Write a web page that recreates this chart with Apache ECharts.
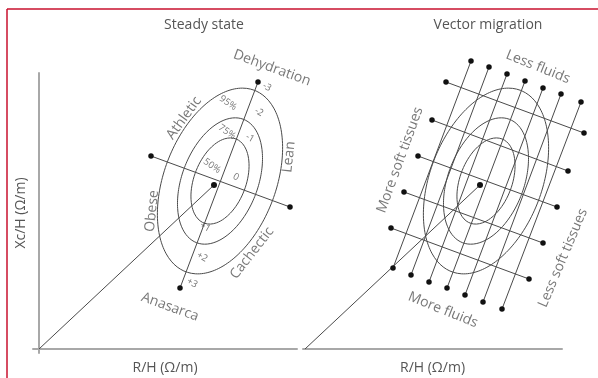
<!DOCTYPE html>
<html>
<head>
<meta charset="utf-8">
<script src="https://cdn.jsdelivr.net/npm/echarts@6/dist/echarts.min.js"></script>
<style>
  html, body { margin: 0; padding: 0; background: #fff; }
  #chart { width: 598px; height: 378px; }
</style>
</head>
<body>
<div id="chart"></div>
<script>
// ---- Shared BIVA frame: both panels use the same R/H and Xc/H units ----
const meanPoint = [175, 164];
const ellipseCenter = [181, 168];
const ellipseTilt = 69.3;                 // degrees, major axis vs. R/H axis
const ellipsePercent = ['50%', '75%', '95%'];
const ellipseSemiMajor = [45, 66, 97];
const ellipseSemiMinor = [26, 38, 56];

// Steady state: major (hydration) and minor (soft tissue) axes
const majorAxisEnds = [[219, 267], [141, 61]];
const minorAxisEnds = [[112, 193], [251, 142]];

const zTickText = ['-3', '-2', '-1', '0', '+1', '+2', '+3'];
const zTickPos = [[228, 262], [220, 237], [211, 211], [197, 172], [166, 122], [163, 92], [153, 66]];
const percentPos = [[173, 183], [188, 217], [189, 246]];

const steadyText = ['Dehydration', 'Athletic', 'Lean', 'Obese', 'Cachectic', 'Anasarca'];
const steadyPos = [[233, 281], [145, 231], [250, 192], [113, 138], [213, 96], [131, 42]];
const steadyAngle = [-20, 54, 84, 84, 52, -20];

// Vector migration: fluid shift lines (along major axis), top / bottom ends
const fluidTop = [[166, 288], [184, 282], [202, 275], [220, 268], [238, 261], [256, 255], [276, 247]];
const fluidBottom = [[88, 81], [106, 74], [124, 67], [142, 61], [160, 54], [178, 47], [197, 40]];
// soft-tissue shift lines (along minor axis), left / right ends
const tissueLeft = [[141, 267], [127, 229], [113, 193], [99, 157], [86, 121]];
const tissueRight = [[279, 216], [263, 178], [252, 142], [238, 106], [224, 70]];

const migrationText = ['Less fluids', 'More soft tissues', 'Less soft tissues', 'More fluids'];
const migrationPos = [[233, 282], [95, 189], [258, 91], [138, 39]];
const migrationAngle = [-22, 70, 67, -22];

const axisName = 'R/H (\u03A9/m)';
const yAxisName = 'Xc/H (\u03A9/m)';
const panelTitles = ['Steady state', 'Vector migration'];

// ---- styling ----
const FONT = '"Open Sans", "Noto Sans", sans-serif';
const TEXT = '#555';
const INK = '#4a4a4a';
const DOT = '#111';
const AXIS = '#a8a8a8';

// tolerance ellipse outline from centre, semi-axes and tilt
function ellipseOutline(a, b) {
  const t = ellipseTilt * Math.PI / 180;
  const pts = [];
  const n = 180;
  for (let k = 0; k <= n; k++) {
    const u = (k / n) * 2 * Math.PI;
    const ex = a * Math.cos(u), ey = b * Math.sin(u);
    pts.push([
      ellipseCenter[0] + ex * Math.cos(t) - ey * Math.sin(t),
      ellipseCenter[1] + ex * Math.sin(t) + ey * Math.cos(t)
    ]);
  }
  return pts;
}

function ellipseSeries(g) {
  return ellipseSemiMajor.map((a, i) => ({
    type: 'line', xAxisIndex: g, yAxisIndex: g,
    data: ellipseOutline(a, ellipseSemiMinor[i]),
    showSymbol: false, symbol: 'none', clip: false, silent: true,
    lineStyle: { color: INK, width: 1 }
  }));
}

// straight segment with a dot at each end
function dottedSegment(g, p, q) {
  return {
    type: 'line', xAxisIndex: g, yAxisIndex: g,
    data: [p, q], symbol: 'circle', symbolSize: 5.5, showSymbol: true,
    clip: false, silent: true,
    lineStyle: { color: INK, width: 1 },
    itemStyle: { color: DOT }
  };
}

// vector from the origin to the mean point
function meanVector(g) {
  return {
    type: 'line', xAxisIndex: g, yAxisIndex: g,
    data: [{ value: [0, 0], symbol: 'none' }, { value: meanPoint, symbol: 'circle' }],
    symbolSize: 6, showSymbol: true, clip: false, silent: true,
    lineStyle: { color: INK, width: 1 },
    itemStyle: { color: DOT }
  };
}

function textSeries(g, texts, pos, angles, size) {
  return {
    type: 'scatter', xAxisIndex: g, yAxisIndex: g,
    symbolSize: 0, clip: false, silent: true,
    data: texts.map((t, i) => ({
      value: pos[i], name: t,
      label: { rotate: Array.isArray(angles) ? angles[i] : angles }
    })),
    label: {
      show: true, position: 'inside', formatter: '{b}',
      color: TEXT, fontFamily: FONT, fontSize: size
    }
  };
}

const series = [];
// Steady state panel (grid 0)
series.push(...ellipseSeries(0));
series.push(dottedSegment(0, majorAxisEnds[0], majorAxisEnds[1]));
series.push(dottedSegment(0, minorAxisEnds[0], minorAxisEnds[1]));
series.push(meanVector(0));
series.push(textSeries(0, steadyText, steadyPos, steadyAngle, 14));
series.push(textSeries(0, ellipsePercent, percentPos, -35, 9.5));
series.push(textSeries(0, zTickText, zTickPos, -30, 9.5));

// Vector migration panel (marks on grid 2, which shares grid 1's scale)
series.push(...ellipseSeries(2));
fluidTop.forEach((p, i) => series.push(dottedSegment(2, p, fluidBottom[i])));
tissueLeft.forEach((p, i) => series.push(dottedSegment(2, p, tissueRight[i])));
series.push(meanVector(2));
series.push(textSeries(2, migrationText, migrationPos, migrationAngle, 14));

const nameStyle = { color: TEXT, fontFamily: FONT, fontSize: 14 };
function hiddenParts() {
  return { axisTick: { show: false }, axisLabel: { show: false }, splitLine: { show: false } };
}

const option = {
  animation: false,
  backgroundColor: '#fff',
  title: panelTitles.map((t, i) => ({
    text: t, left: i === 0 ? 199 : 483, top: 13, textAlign: 'center',
    textStyle: { color: TEXT, fontFamily: FONT, fontSize: 14, fontWeight: 'normal' }
  })),
  grid: [
    { left: 33, top: 73, width: 264, height: 280, outerBoundsMode: 'none', containLabel: false },
    { left: 303, top: 73, width: 259, height: 280, outerBoundsMode: 'none', containLabel: false },
    { left: 303, top: 53, width: 292, height: 300, outerBoundsMode: 'none', containLabel: false }
  ],
  xAxis: [
    Object.assign({
      gridIndex: 0, type: 'value', min: -6, max: 258,
      axisLine: { onZero: true, lineStyle: { color: AXIS, width: 2 } },
      name: axisName, nameLocation: 'middle', nameGap: 8, nameTextStyle: nameStyle
    }, hiddenParts()),
    Object.assign({
      gridIndex: 1, type: 'value', min: -2, max: 257,
      axisLine: { onZero: true, lineStyle: { color: AXIS, width: 2 } },
      name: axisName, nameLocation: 'middle', nameGap: 8, nameTextStyle: nameStyle
    }, hiddenParts()),
    { gridIndex: 2, type: 'value', min: -2, max: 290, show: false }
  ],
  yAxis: [
    Object.assign({
      gridIndex: 0, type: 'value', min: -4, max: 276,
      axisLine: { onZero: true, lineStyle: { color: AXIS, width: 2 } },
      name: yAxisName, nameLocation: 'middle', nameGap: 5, nameRotate: 90, nameTextStyle: nameStyle
    }, hiddenParts()),
    Object.assign({
      gridIndex: 1, type: 'value', min: -4, max: 276,
      axisLine: { show: false }
    }, hiddenParts()),
    { gridIndex: 2, type: 'value', min: -4, max: 296, show: false }
  ],
  graphic: [
    { type: 'line', shape: { x1: 7, y1: 9, x2: 598, y2: 9 }, style: { stroke: '#c8102e', lineWidth: 1.5 }, silent: true },
    { type: 'line', shape: { x1: 7, y1: 9, x2: 7, y2: 378 }, style: { stroke: '#c8102e', lineWidth: 1.5 }, silent: true }
  ],
  series: series
};

echarts.init(document.getElementById('chart'), null, { renderer: 'canvas' }).setOption(option);
</script>
</body>
</html>
